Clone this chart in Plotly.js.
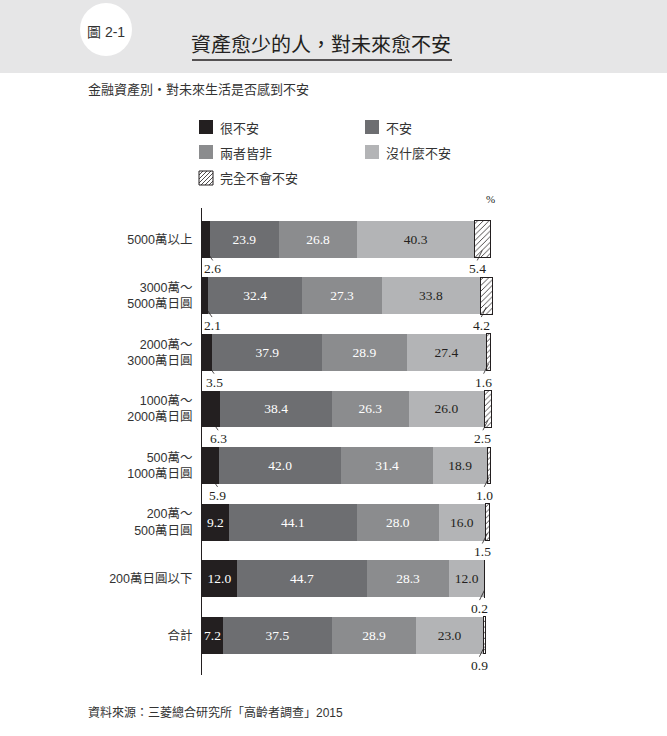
<!DOCTYPE html>
<html>
<head>
<meta charset="utf-8">
<script src="https://cdn.plot.ly/plotly-3.0.1.min.js"></script>
<style>
  html, body { margin: 0; padding: 0; background: #ffffff; }
  #chart { width: 667px; height: 736px; }
</style>
</head>
<body>
<div id="chart"></div>
<script>
/* ── data ─────────────────────────────────────────────── */
const categories = [
    "5000萬以上",
    "3000萬～<br>5000萬日圓",
    "2000萬～<br>3000萬日圓",
    "1000萬～<br>2000萬日圓",
    "500萬～<br>1000萬日圓",
    "200萬～<br>500萬日圓",
    "200萬日圓以下",
    "合計"
];
const veryAnxious = [2.6, 2.1, 3.5, 6.3, 5.9, 9.2, 12.0, 7.2];
const anxious     = [23.9, 32.4, 37.9, 38.4, 42.0, 44.1, 44.7, 37.5];
const neither     = [26.8, 27.3, 28.9, 26.3, 31.4, 28.0, 28.3, 28.9];
const notMuch     = [40.3, 33.8, 27.4, 26.0, 18.9, 16.0, 12.0, 23.0];
const notAtAll    = [5.4, 4.2, 1.6, 2.5, 1.0, 1.5, 0.2, 0.9];

const seriesNames = ["很不安", "不安", "兩者皆非", "沒什麼不安", "完全不會不安"];

/* ── style ────────────────────────────────────────────── */
const colors = {
    black   : "#231f20",
    dark    : "#6d6e71",
    mid     : "#8b8c8e",
    light   : "#b3b4b6",
    band    : "#e6e6e7",
    text    : "#333333"
};
const serif = "Liberation Serif, Times New Roman, serif";
const sans  = "Liberation Sans, Noto Sans CJK TC, sans-serif";
const cjk   = "Noto Sans CJK TC, sans-serif";

// plot area in pixels (used to place header / legend decorations)
const W = 667, H = 736;
const M = { l: 202, r: 174, t: 208, b: 61 };
const PW = W - M.l - M.r, PH = H - M.t - M.b;
const px = x => (x - M.l) / PW;
const py = y => (H - M.b - y) / PH;

const fmt = v => v.toFixed(1);

function barTrace(name, values, color, textColor, showText) {
    return {
        type: "bar",
        orientation: "h",
        name: name,
        y: categories,
        x: values,
        marker: { color: color, line: { width: 0 } },
        text: values.map(fmt),
        textposition: values.map(v => showText(v) ? "inside" : "none"),
        insidetextanchor: "middle",
        textangle: 0,
        constraintext: "none",
        textfont: { family: serif, size: 13.5, color: textColor },
        hoverinfo: "skip"
    };
}

const traces = [
    barTrace(seriesNames[0], veryAnxious, colors.black, "#ffffff", v => v >= 7),
    barTrace(seriesNames[1], anxious, colors.dark, "#ffffff", () => true),
    barTrace(seriesNames[2], neither, colors.mid, "#ffffff", () => true),
    barTrace(seriesNames[3], notMuch, colors.light, colors.black, () => true),
    {
        type: "bar",
        orientation: "h",
        name: seriesNames[4],
        y: categories,
        x: notAtAll,
        marker: {
            color: "#ffffff",
            line: { color: colors.black, width: 1 },
            pattern: { shape: "/", fgcolor: colors.black, bgcolor: "#ffffff", size: 4, solidity: 0.2 }
        },
        textposition: "none",
        hoverinfo: "skip"
    }
];

/* ── value labels under the bars (small segments) ─────── */
const annotations = [];
const labelFont = { family: serif, size: 13.5, color: colors.black };

function leaderLabel(x, i, v, dx) {
    return {
        x: x, y: i + 0.2, xref: "x", yref: "y",
        text: fmt(v), font: labelFont,
        xanchor: "center", yanchor: "top", borderpad: 0,
        showarrow: true, arrowhead: 0, arrowwidth: 0.8, arrowcolor: colors.black,
        ax: dx, ay: 10, standoff: 0
    };
}

veryAnxious.forEach((v, i) => {
    if (v >= 7) return;
    annotations.push(leaderLabel(v / 2, i, v, 7));
});
notAtAll.forEach((v, i) => {
    const start = veryAnxious[i] + anxious[i] + neither[i] + notMuch[i];
    annotations.push(leaderLabel(start + v / 2, i, v, -5));
});

/* ── header, subtitle, legend, source ─────────────────── */
const shapes = [
    { type: "rect", xref: "paper", yref: "paper", x0: px(0), x1: px(W), y0: py(73), y1: py(0),
      fillcolor: colors.band, line: { width: 0 }, layer: "below" },
    { type: "circle", xref: "paper", yref: "paper", x0: px(80), x1: px(132), y0: py(56), y1: py(3),
      fillcolor: "#ffffff", line: { width: 0 }, layer: "below" },
    { type: "line", xref: "paper", yref: "paper", x0: px(192), x1: px(452), y0: py(60), y1: py(60),
      line: { color: colors.black, width: 1.5 } }
];

function paperText(x, y, text, font, xanchor) {
    return { xref: "paper", yref: "paper", x: px(x), y: py(y), text: text, showarrow: false,
        xanchor: xanchor || "center", yanchor: "middle", font: font };
}

annotations.push(
    paperText(106, 32, "圖 2-1", { family: sans, size: 14, color: colors.text }),
    paperText(321, 43, "資產愈少的人，對未來愈不安", { family: cjk, size: 20, color: colors.black }),
    paperText(86, 88, "金融資產別・對未來生活是否感到不安", { family: cjk, size: 13, color: colors.text }, "left"),
    paperText(490, 199, "%", { family: serif, size: 11, color: colors.black }),
    paperText(86, 712, "資料來源：三菱總合研究所「高齡者調查」2015", { family: sans, size: 12, color: colors.text }, "left")
);

// legend: 2 columns x 3 rows, drawn by hand
const legendFills = [colors.black, colors.dark, colors.mid, colors.light, null];
const legendPos = [[199, 127], [365, 127], [199, 152], [365, 152], [199, 178]];
legendPos.forEach(([lx, ly], k) => {
    const s = 14;
    const x0 = lx, x1 = lx + s, y0 = ly - s / 2, y1 = ly + s / 2;
    if (legendFills[k]) {
        shapes.push({ type: "rect", xref: "paper", yref: "paper", x0: px(x0), x1: px(x1), y0: py(y1), y1: py(y0),
            fillcolor: legendFills[k], line: { width: 0 } });
    } else {
        shapes.push({ type: "rect", xref: "paper", yref: "paper", x0: px(x0), x1: px(x1), y0: py(y1), y1: py(y0),
            fillcolor: "#ffffff", line: { color: colors.black, width: 1 } });
        // "/" hatch lines: x + y = c, clipped to the box
        for (let c = x0 + y0 + 4; c < x1 + y1; c += 4) {
            const ax0 = Math.max(x0, c - y1), ax1 = Math.min(x1, c - y0);
            shapes.push({ type: "line", xref: "paper", yref: "paper",
                x0: px(ax0), y0: py(c - ax0), x1: px(ax1), y1: py(c - ax1),
                line: { color: colors.black, width: 0.8 } });
        }
    }
    annotations.push(paperText(x1 + 5, ly, seriesNames[k], { family: cjk, size: 13, color: colors.text }, "left"));
});

/* ── layout ───────────────────────────────────────────── */
const layout = {
    width: W,
    height: H,
    margin: M,
    paper_bgcolor: "#ffffff",
    plot_bgcolor: "#ffffff",
    barmode: "stack",
    bargap: 0.35,
    showlegend: false,
    xaxis: {
        range: [0, 100],
        visible: false,
        fixedrange: true
    },
    yaxis: {
        type: "category",
        range: [7.7, -0.55],
        autorange: false,
        showline: true,
        linecolor: colors.black,
        linewidth: 1,
        showgrid: false,
        zeroline: false,
        ticks: "",
        ticklabelstandoff: 6,
        tickfont: { family: sans, size: 12.5, color: colors.text },
        fixedrange: true
    },
    shapes: shapes,
    annotations: annotations
};

Plotly.newPlot("chart", traces, layout, { displayModeBar: false, staticPlot: true });
</script>
</body>
</html>
